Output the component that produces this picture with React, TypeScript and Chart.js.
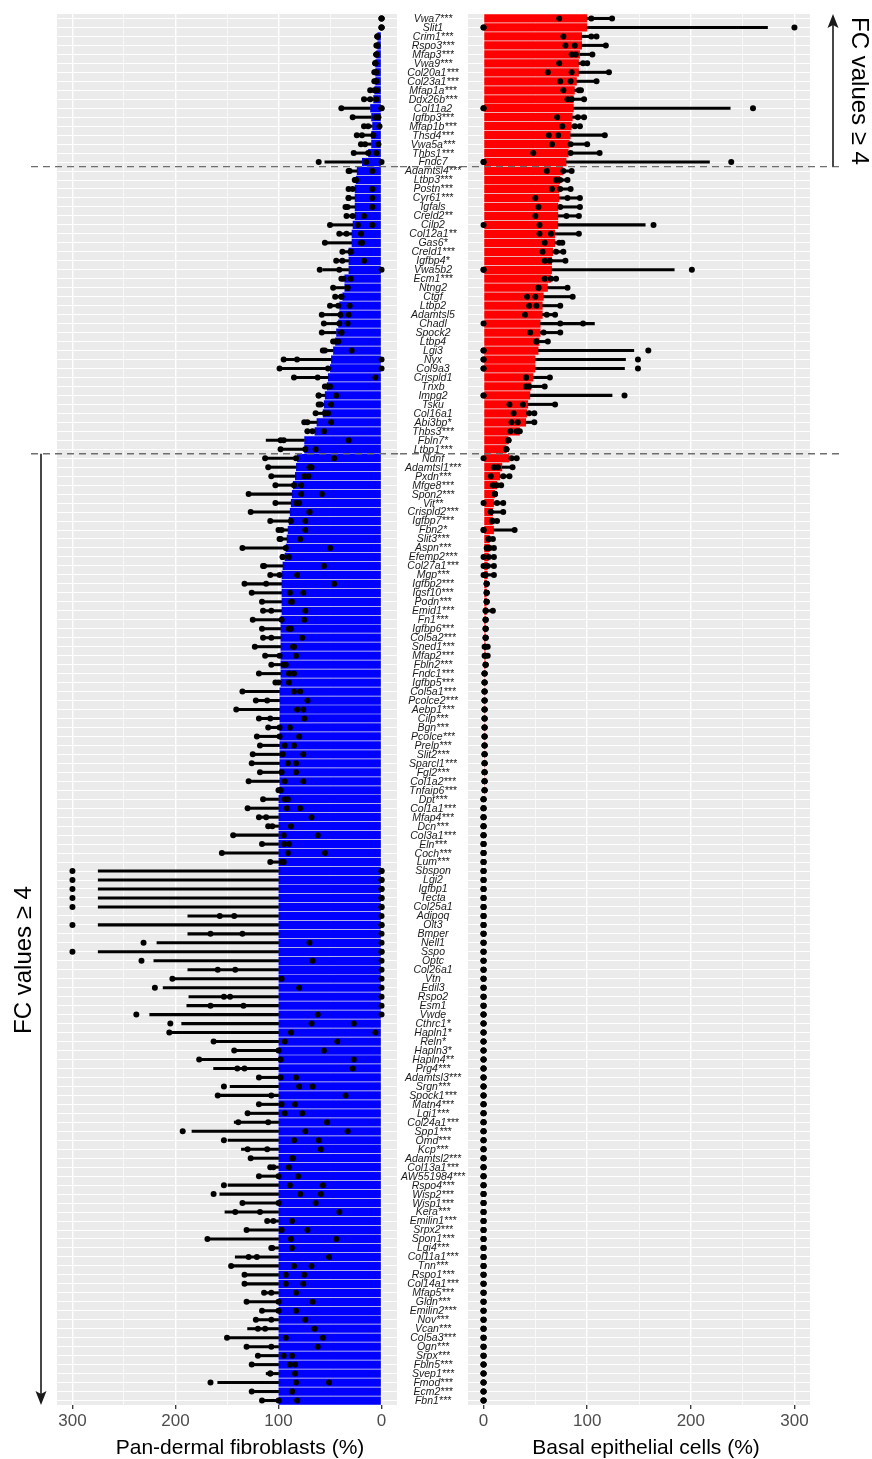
import React, { useEffect, useRef } from "react";
import { Chart, registerables } from "chart.js";
Chart.register(...registerables);

// ---------------- data ----------------
const genes = ["Vwa7","Slit1","Crim1","Rspo3","Mfap3","Vwa9","Col20a1","Col23a1","Mfap1a","Ddx26b",
"Col11a2","Igfbp3","Mfap1b","Thsd4","Vwa5a","Thbs1","Fndc7","Adamtsl4","Ltbp3","Postn",
"Cyr61","Igfals","Creld2","Cilp2","Col12a1","Gas6","Creld1","Igfbp4","Vwa5b2","Ecm1",
"Ntng2","Ctgf","Ltbp2","Adamtsl5","Chadl","Spock2","Ltbp4","Lgi3","Nyx","Col9a3",
"Crispld1","Tnxb","Impg2","Tsku","Col16a1","Abi3bp","Thbs3","Fbln7","Ltbp1","Ndnf",
"Adamtsl1","Pxdn","Mfge8","Spon2","Vit","Crispld2","Igfbp7","Fbn2","Slit3","Aspn",
"Efemp2","Col27a1","Mgp","Igfbp2","Igsf10","Podn","Emid1","Fn1","Igfbp6","Col5a2",
"Sned1","Mfap2","Fbln2","Fndc1","Igfbp5","Col5a1","Pcolce2","Aebp1","Cilp","Bgn",
"Pcolce","Prelp","Slit2","Sparcl1","Fgl2","Col1a2","Tnfaip6","Dpt","Col1a1","Mfap4",
"Dcn","Col3a1","Eln","Coch","Lum","Sbspon","Lgi2","Igfbp1","Tecta","Col25a1",
"Adipoq","Olt3","Bmper","Nell1","Sspo","Optc","Col26a1","Vtn","Edil3","Rspo2",
"Esm1","Vwde","Cthrc1","Hapln1","Reln","Hapln3","Hapln4","Prg4","Adamtsl3","Srgn",
"Spock1","Matn4","Lgi1","Col24a1","Spp1","Omd","Kcp","Adamtsl2","Col13a1","AW551984",
"Rspo4","Wisp2","Wisp1","Kera","Emilin1","Srpx2","Spon1","Lgi4","Col11a1","Tnn",
"Rspo1","Col14a1","Mfap5","Gldn","Emilin2","Nov","Vcan","Col5a3","Ogn","Srpx",
"Fbln5","Svep1","Fmod","Ecm2","Fbn1"];

const sig = [
"***","","***","***","***","***","***","***","***","***",
"","***","***","***","***","***","","***","***","***",
"***","","**","","**","*","***","*","","***",
"","","","","","","","","","",
"","","","","","*","***","*","***","",
"***","***","***","***","**","***","***","*","***","***",
"***","***","***","***","***","***","***","***","***","***",
"***","***","***","***","***","***","***","***","***","***",
"***","***","***","***","***","***","***","***","***","***",
"***","***","***","***","***","","","","","",
"","","","","","","","","","",
"","","*","*","*","*","**","***","***","***",
"***","***","***","***","***","***","***","***","***","***",
"***","***","***","***","***","***","***","***","***","***",
"***","***","***","***","***","***","***","***","***","***",
"***","***","***","***","***"];

// last gene of the two upper groups (dashed separators)
const groupEnds = ["Fndc7", "Ltbp1"];

// Pan-dermal fibroblasts (%)
const fibMean = [0,0,4,4,5,6,6,6,7,8,
11,10,9,10,10,13,19,24,25,26,
26,26,26,28,29,29,32,32,32,36,
36,38,41,41,42,44,45,47,49,50,
52,53,55,56,57,63,65,75,75,82,
83,84,86,87,88,89,90,91,92,93,
94,96,97,97,97,97,97,98,98,98,
98,98,98,98,98,99,99,99,99,99,
99,99,99,99,99,99,99,100,100,100,
100,100,100,100,100,100,100,100,100,100,
100,100,100,100,100,100,100,100,100,100,
100,100,100,100,100,100,100,100,100,100,
100,100,100,100,100,100,100,100,100,100,
100,100,100,100,100,100,100,100,100,100,
100,100,100,100,100,100,100,100,100,100,
100,100,100,100,100];
const fibErr = [0,0,4,5,5,6,7,7,11,17,
38,28,17,24,20,27,55,32,26,32,
32,35,34,50,41,55,38,44,57,39,
47,45,50,58,56,58,47,57,95,99,
85,55,61,61,64,75,72,112,98,113,
110,107,103,129,103,127,108,100,99,135,
96,115,108,133,126,116,115,125,116,115,
123,113,107,119,103,135,122,141,119,110,
121,118,125,126,118,129,100,115,130,119,
110,144,116,155,108,275,275,275,275,275,
188,275,188,218,275,221,188,203,212,187,
189,225,194,205,163,143,177,163,119,147,
159,119,130,143,184,149,136,127,108,119,
149,157,135,152,111,131,169,107,142,146,
133,133,114,131,116,122,130,150,131,120,
126,112,159,126,116];
const fibRep1 = [0,0,4,4,5,6,5,5,11,17,
39,28,17,24,20,27,61,32,25,32,
32,35,34,50,41,55,38,44,60,39,
47,45,50,58,56,58,47,57,95,99,
85,55,61,61,64,75,72,98,98,113,
110,107,103,129,103,127,108,100,99,135,
96,115,108,133,126,116,115,125,116,115,
123,113,107,119,103,135,122,141,119,110,
121,118,125,126,118,129,100,115,130,119,
110,144,116,155,108,300,300,300,300,300,
157,300,166,231,300,233,159,203,220,153,
166,238,205,206,163,143,177,140,119,153,
159,119,130,139,193,153,130,127,108,119,
153,163,135,142,111,131,169,107,129,146,
133,133,114,131,116,122,120,150,131,120,
126,108,166,126,116];
const fibRep2 = [0,0,4,4,5,6,6,6,7,11,
0,6,13,19,16,13,15,31,26,28,
32,33,28,23,34,20,30,38,41,37,
33,39,42,40,41,39,45,55,82,52,
62,50,61,59,55,72,67,95,74,83,
70,75,85,78,83,70,88,97,98,93,
96,114,99,112,89,87,107,97,88,107,
85,99,95,90,100,85,111,82,108,99,
99,94,96,91,97,94,98,94,92,112,
106,95,95,91,97,0,0,0,0,0,
143,0,135,70,0,67,142,97,80,147,
134,62,68,88,94,100,98,133,98,80,
107,97,94,110,74,85,111,87,105,100,
89,79,100,118,105,97,88,106,121,85,
93,93,107,100,100,107,113,93,107,95,
89,108,83,87,100];
const fibRep3 = [0,0,4,5,5,6,7,7,4,5,
0,3,2,8,3,5,0,9,25,9,
9,9,17,9,20,19,30,17,0,30,
33,39,31,32,33,39,42,29,0,0,
6,53,44,49,52,49,56,32,64,46,
68,71,78,58,80,70,74,74,79,50,
90,56,82,46,76,88,74,75,90,77,
86,83,93,85,90,79,72,76,75,89,
80,85,76,83,83,76,99,91,79,68,
88,62,90,55,95,0,0,0,0,0,
0,0,0,0,0,0,0,0,0,0,
0,0,27,6,43,56,27,28,83,67,
35,84,77,53,33,61,59,86,90,81,
57,59,64,41,87,72,44,87,51,68,
75,76,83,67,83,74,65,57,62,87,
84,84,51,87,82];

// Basal epithelial cells (%)
const basMean = [100,100,95,95,93,92,92,90,88,87,
87,86,85,84,83,82,80,77,74,73,
73,72,72,72,69,69,67,66,66,65,
62,58,57,57,55,55,54,53,50,50,
48,46,45,43,42,41,35,24,22,25,
18,16,13,11,10,9,9,10,6,6,
5,4,4,3,3,3,3,2,2,2,
2,2,2,1,1,1,1,1,1,1,
1,1,1,1,1,1,1,0,0,0,
0,0,0,0,0,0,0,0,0,0,
0,0,0,0,0,0,0,0,0,0,
0,0,0,0,0,0,0,0,0,0,
0,0,0,0,0,0,0,0,0,0,
0,0,0,0,0,0,0,0,0,0,
0,0,0,0,0,0,0,0,0,0,
0,0,0,0,0];
const basErr = [124,274,109,118,105,100,121,109,94,97,
238,97,93,117,100,112,218,85,81,84,
93,93,92,156,92,76,77,79,184,70,
81,86,74,69,107,74,62,145,137,136,
64,59,124,69,49,49,35,24,22,32,
28,25,17,11,19,19,13,30,9,10,
10,10,10,3,3,3,9,2,2,2,
4,4,2,1,1,1,1,1,1,1,
1,1,1,1,1,1,1,0,0,0,
0,0,0,0,0,0,0,0,0,0,
0,0,0,0,0,0,0,0,0,0,
0,0,0,0,0,0,0,0,0,0,
0,0,0,0,0,0,0,0,0,0,
0,0,0,0,0,0,0,0,0,0,
0,0,0,0,0,0,0,0,0,0,
0,0,0,0,0];
const basRep1 = [73,0,77,79,85,73,62,74,77,81,
0,71,76,63,66,48,0,61,70,66,
50,53,50,0,54,59,57,59,0,59,
53,42,44,40,0,45,51,0,0,0,
41,41,0,25,29,27,26,24,22,0,
10,7,9,11,0,7,8,0,9,3,
0,0,0,3,3,3,2,2,2,2,
1,1,2,1,1,1,1,1,1,1,
1,1,1,1,1,1,1,0,0,0,
0,0,0,0,0,0,0,0,0,0,
0,0,0,0,0,0,0,0,0,0,
0,0,0,0,0,0,0,0,0,0,
0,0,0,0,0,0,0,0,0,0,
0,0,0,0,0,0,0,0,0,0,
0,0,0,0,0,0,0,0,0,0,
0,0,0,0,0];
const basRep2 = [104,0,104,88,89,96,85,84,92,85,
0,91,88,72,84,84,0,77,74,74,
81,74,80,54,65,73,70,64,0,65,
53,50,51,61,74,58,51,0,0,0,
41,44,0,38,44,33,32,24,22,27,
14,19,13,11,13,7,9,0,5,6,
5,4,2,3,3,3,2,2,2,2,
2,2,2,1,1,1,1,1,1,1,
1,1,1,1,1,1,1,0,0,0,
0,0,0,0,0,0,0,0,0,0,
0,0,0,0,0,0,0,0,0,0,
0,0,0,0,0,0,0,0,0,0,
0,0,0,0,0,0,0,0,0,0,
0,0,0,0,0,0,0,0,0,0,
0,0,0,0,0,0,0,0,0,0,
0,0,0,0,0];
const basRep3 = [124,300,109,118,105,100,121,109,94,97,
260,97,93,117,100,112,239,85,81,84,
93,93,92,164,92,76,77,79,201,70,
81,86,74,69,96,74,62,159,149,149,
64,59,136,69,49,49,35,24,22,32,
28,25,17,11,19,19,13,30,5,10,
10,10,10,3,3,3,9,2,2,2,
4,4,2,1,1,1,1,1,1,1,
1,1,1,1,1,1,1,0,0,0,
0,0,0,0,0,0,0,0,0,0,
0,0,0,0,0,0,0,0,0,0,
0,0,0,0,0,0,0,0,0,0,
0,0,0,0,0,0,0,0,0,0,
0,0,0,0,0,0,0,0,0,0,
0,0,0,0,0,0,0,0,0,0,
0,0,0,0,0];

const xTicks = [0, 50, 100, 150, 200, 250, 300];
const fcLabel = "FC values \u2265 4";
const leftTitle = "Pan-dermal fibroblasts (%)";
const rightTitle = "Basal epithelial cells (%)";

// ---------------- layout ----------------
const FONT = '"Liberation Sans", Arial, Helvetica, sans-serif';
const H = 1459;
const PANEL_TOP = 14;
const PANEL_BOTTOM = 1405;
const LEFT_W = 400;
const RIGHT_W = 472;
const LABEL_COL = 68;

function makeDatasets(mean, err, r1, r2, r3, color) {
  const dots = [];
  genes.forEach((g, i) => {
    dots.push({ x: r1[i], y: g });
    dots.push({ x: r2[i], y: g });
    dots.push({ x: r3[i], y: g });
  });
  return [
    {
      type: "scatter",
      data: dots,
      pointRadius: 3,
      pointHoverRadius: 3,
      pointBackgroundColor: "#000",
      pointBorderWidth: 0,
      order: 0,
    },
    {
      type: "bar",
      data: genes.map((g, i) => [mean[i], err[i]]),
      backgroundColor: "#000",
      barThickness: 2.4,
      grouped: false,
      order: 1,
    },
    {
      type: "bar",
      data: mean,
      backgroundColor: color,
      barPercentage: 0.92,
      categoryPercentage: 1,
      grouped: false,
      order: 2,
    },
  ];
}

function makeX(reverse) {
  return {
    type: "linear",
    min: -15,
    max: 315,
    reverse,
    afterBuildTicks: (s) => {
      s.ticks = xTicks.map((v) => ({ value: v }));
    },
    afterFit: (s) => {
      s.height = H - PANEL_BOTTOM;
    },
    grid: {
      color: "#ffffff",
      lineWidth: (c) => (c.tick && c.tick.value % 100 === 0 ? 1.4 : 0.7),
      tickColor: (c) => (c.tick && c.tick.value % 100 === 0 ? "#333333" : "rgba(0,0,0,0)"),
      tickLength: 4,
      tickWidth: 1.3,
    },
    border: { display: false },
    ticks: {
      callback: (v) => (v % 100 === 0 ? String(v) : ""),
      color: "#4d4d4d",
      font: { family: FONT, size: 17 },
      padding: 2,
      maxRotation: 0,
      autoSkip: false,
    },
    title: { display: false },
  };
}

function makeY(width) {
  return {
    type: "category",
    offset: true,
    afterFit: (s) => {
      s.width = width;
    },
    grid: { color: "#ffffff", lineWidth: 1, offset: false, drawTicks: false },
    border: { display: false },
    ticks: { display: false },
  };
}

const bgPlugin = {
  id: "panelBg",
  beforeDraw(chart) {
    const { ctx, chartArea: a } = chart;
    ctx.save();
    ctx.fillStyle = "#EBEBEB";
    ctx.fillRect(a.left, a.top, a.right - a.left, a.bottom - a.top);
    ctx.restore();
  },
};

function breakYs(chart) {
  const ys = chart.scales.y;
  return groupEnds.map((g) => {
    const i = genes.indexOf(g);
    return (ys.getPixelForValue(i) + ys.getPixelForValue(i + 1)) / 2;
  });
}

function dashed(ctx, x0, x1, y) {
  ctx.save();
  ctx.strokeStyle = "#6e6e6e";
  ctx.lineWidth = 1.3;
  ctx.setLineDash([7, 5]);
  ctx.beginPath();
  ctx.moveTo(x0, y);
  ctx.lineTo(x1, y);
  ctx.stroke();
  ctx.restore();
}

function arrow(ctx, x, yFrom, yTo) {
  const dir = Math.sign(yTo - yFrom);
  ctx.save();
  ctx.strokeStyle = "#1a1a1a";
  ctx.fillStyle = "#1a1a1a";
  ctx.lineWidth = 1.6;
  ctx.beginPath();
  ctx.moveTo(x, yFrom);
  ctx.lineTo(x, yTo - dir * 10);
  ctx.stroke();
  ctx.beginPath();
  ctx.moveTo(x, yTo);
  ctx.lineTo(x - 5.5, yTo - dir * 14);
  ctx.lineTo(x, yTo - dir * 11);
  ctx.lineTo(x + 5.5, yTo - dir * 14);
  ctx.closePath();
  ctx.fill();
  ctx.restore();
}

function rotatedText(ctx, text, x, y, angle) {
  ctx.save();
  ctx.translate(x, y);
  ctx.rotate(angle);
  ctx.font = `24px ${FONT}`;
  ctx.fillStyle = "#000";
  ctx.textAlign = "center";
  ctx.textBaseline = "middle";
  ctx.fillText(text, 0, 0);
  ctx.restore();
}

function axisTitle(ctx, text, x) {
  ctx.save();
  ctx.font = `21px ${FONT}`;
  ctx.fillStyle = "#000";
  ctx.textAlign = "center";
  ctx.textBaseline = "middle";
  ctx.fillText(text, x, 1448);
  ctx.restore();
}

const leftOverlay = {
  id: "leftOverlay",
  afterDraw(chart) {
    const { ctx } = chart;
    const [y1, y2] = breakYs(chart);
    dashed(ctx, 31, LEFT_W, y1);
    dashed(ctx, 31, LEFT_W, y2);
    arrow(ctx, 41, y2, PANEL_BOTTOM);
    rotatedText(ctx, fcLabel, 24, 960, -Math.PI / 2);
    axisTitle(ctx, leftTitle, 240);
  },
};

const rightOverlay = {
  id: "rightOverlay",
  afterDraw(chart) {
    const { ctx } = chart;
    const ys = chart.scales.y;
    // gene labels
    ctx.save();
    ctx.fillStyle = "#1a1a1a";
    ctx.textAlign = "center";
    ctx.textBaseline = "middle";
    ctx.font = `italic 10.5px ${FONT}`;
    genes.forEach((g, i) => {
      ctx.fillText(g + sig[i], 33, ys.getPixelForValue(i) + 0.5);
    });
    ctx.restore();
    const [y1, y2] = breakYs(chart);
    dashed(ctx, 0, 440, y1);
    dashed(ctx, 0, 440, y2);
    arrow(ctx, 433, y1, PANEL_TOP);
    rotatedText(ctx, fcLabel, 459, 91, Math.PI / 2);
    axisTitle(ctx, rightTitle, 246);
  },
};

function baseOptions(xScale, yScale, padding) {
  return {
    indexAxis: "y",
    responsive: false,
    maintainAspectRatio: false,
    animation: false,
    events: [],
    layout: { padding },
    plugins: { legend: { display: false }, tooltip: { enabled: false } },
    scales: { x: xScale, y: yScale },
  };
}

export default function App() {
  const leftRef = useRef(null);
  const rightRef = useRef(null);

  useEffect(() => {
    const left = new Chart(leftRef.current, {
      type: "bar",
      data: {
        labels: genes,
        datasets: makeDatasets(fibMean, fibErr, fibRep1, fibRep2, fibRep3, "#0000FF"),
      },
      options: baseOptions(makeX(true), makeY(0), { left: 57, right: 0, top: PANEL_TOP, bottom: 0 }),
      plugins: [bgPlugin, leftOverlay],
    });
    const right = new Chart(rightRef.current, {
      type: "bar",
      data: {
        labels: genes,
        datasets: makeDatasets(basMean, basErr, basRep1, basRep2, basRep3, "#FF0000"),
      },
      options: baseOptions(makeX(false), makeY(LABEL_COL), { left: 0, right: 62, top: PANEL_TOP, bottom: 0 }),
      plugins: [bgPlugin, rightOverlay],
    });
    return () => {
      left.destroy();
      right.destroy();
    };
  }, []);

  return (
    <div style={{ position: "absolute", left: 0, top: 0, width: 872, height: H, background: "#fff" }}>
      <canvas
        ref={leftRef}
        width={LEFT_W}
        height={H}
        style={{ position: "absolute", left: 0, top: 0, width: LEFT_W, height: H }}
      />
      <canvas
        ref={rightRef}
        width={RIGHT_W}
        height={H}
        style={{ position: "absolute", left: LEFT_W, top: 0, width: RIGHT_W, height: H }}
      />
    </div>
  );
}
